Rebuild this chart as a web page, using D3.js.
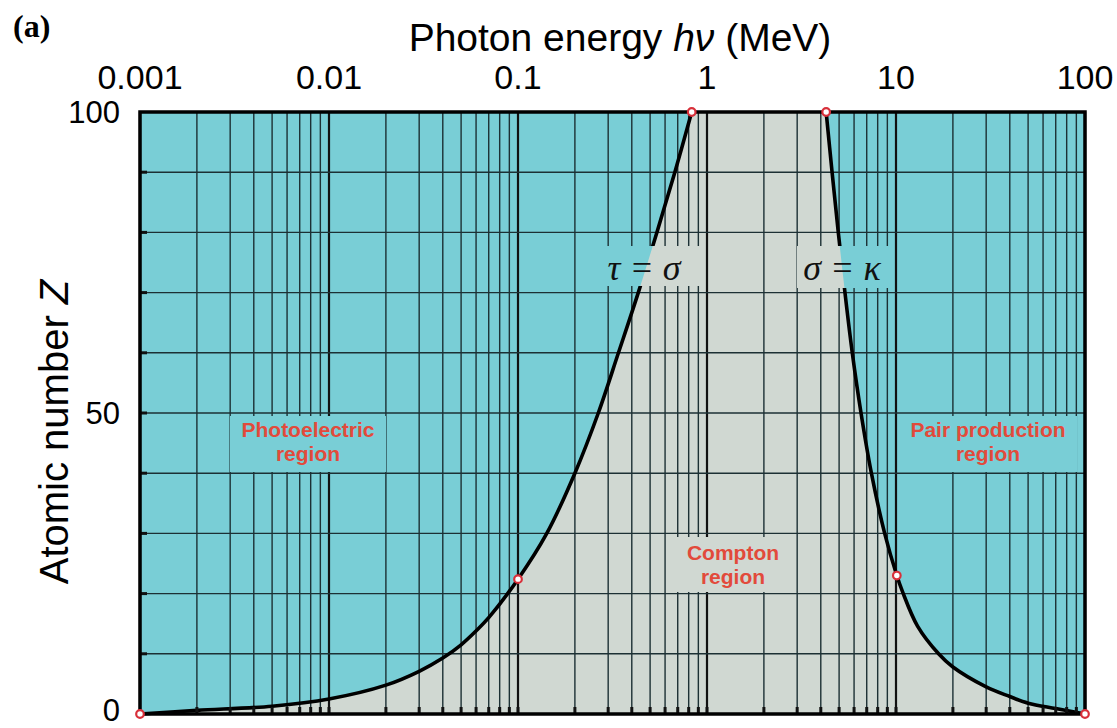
<!DOCTYPE html>
<html>
<head>
<meta charset="utf-8">
<script src="https://cdn.jsdelivr.net/npm/d3@7"></script>
<style>
  body { margin: 0; background: #fff; }
  svg { display: block; }
</style>
</head>
<body>
<div id="chart"></div>
<script>
// tau = sigma boundary (photoelectric / Compton)
const tauSigmaE = [0.001, 0.002, 0.005, 0.01, 0.02, 0.03, 0.04, 0.05, 0.06, 0.07, 0.1, 0.142, 0.2, 0.266, 0.34, 0.433, 0.543, 0.676, 0.83];
const tauSigmaZ = [0, 0.6, 1.3, 2.5, 4.8, 7.1, 9.3, 11.5, 13.8, 16.0, 22.4, 30, 40, 50, 60, 70, 80, 90, 100];
// sigma = kappa boundary (Compton / pair production)
const sigmaKappaE = [4.27, 4.59, 4.95, 5.37, 5.87, 6.53, 7.41, 8.71, 10.1, 10.8, 13, 16.8, 20, 30, 40, 50, 70, 100];
const sigmaKappaZ = [100, 90, 80, 70, 60, 50, 40, 30, 23, 20.4, 14.6, 10, 7.8, 4.5, 2.9, 1.8, 0.9, 0];
// highlighted points
const markE = [0.001, 0.1, 0.83, 4.27, 10.1, 100];
const markZ = [0, 22.4, 100, 100, 23, 0];

const xTicks = [0.001, 0.01, 0.1, 1, 10, 100];
const xTickLabels = ["0.001", "0.01", "0.1", "1", "10", "100"];
const yTicks = [0, 50, 100];
const yGrid = [10, 20, 30, 40, 50, 60, 70, 80, 90];

const width = 1117, height = 728;
const m = { l: 140, r: 32, t: 112, b: 14 };

const svg = d3.select('#chart').append('svg')
  .attr('width', width).attr('height', height);

const x = d3.scaleLog().domain([0.001, 100]).range([m.l, width - m.r]);
const y = d3.scaleLinear().domain([0, 100]).range([height - m.b, m.t]);

const cyan = '#79ced6', grey = '#d0d8d2', red = '#e24a3b';

// label boxes that hide grid lines and curves
const boxes = [
  { x0: 230, x1: 386, y0: 416, y1: 472 },
  { x0: 903, x1: 1077, y0: 416, y1: 472 },
  { x0: 667, x1: 783, y0: 537, y1: 592 },
  { x0: 604, x1: 700, y0: 246, y1: 286 },
  { x0: 797, x1: 893, y0: 246, y1: 288 }
];

const defs = svg.append('defs');
const mask = defs.append('mask').attr('id', 'labelMask');
mask.append('rect').attr('x', 0).attr('y', 0).attr('width', width).attr('height', height).attr('fill', '#fff');
mask.selectAll('rect.box').data(boxes).enter().append('rect')
  .attr('class', 'box')
  .attr('x', d => d.x0).attr('y', d => d.y0)
  .attr('width', d => d.x1 - d.x0).attr('height', d => d.y1 - d.y0)
  .attr('fill', '#000');

const pts1 = tauSigmaE.map((e, i) => [x(e), y(tauSigmaZ[i])]);
const pts2 = sigmaKappaE.map((e, i) => [x(e), y(sigmaKappaZ[i])]);

const line = d3.line().curve(d3.curveCatmullRom.alpha(0.5));

// background regions
svg.append('rect')
  .attr('x', x(0.001)).attr('y', y(100))
  .attr('width', x(100) - x(0.001)).attr('height', y(0) - y(100))
  .attr('fill', cyan);

const comptonPath = line(pts1) + 'L' + line(pts2).slice(1) + 'Z';
svg.append('path').attr('d', comptonPath).attr('fill', grey);

// grid
const grid = svg.append('g').attr('class', 'grid').attr('mask', 'url(#labelMask)');
const minor = [];
xTicks.slice(0, -1).forEach(d => { for (let k = 2; k <= 9; k++) minor.push(k * d); });

grid.selectAll('line.minor').data(minor).enter().append('line')
  .attr('class', 'minor')
  .attr('x1', d => x(d)).attr('x2', d => x(d))
  .attr('y1', y(100)).attr('y2', y(0))
  .attr('stroke', '#1c3034').attr('stroke-width', 1.4);

grid.selectAll('line.major').data(xTicks).enter().append('line')
  .attr('class', 'major')
  .attr('x1', d => x(d)).attr('x2', d => x(d))
  .attr('y1', y(100)).attr('y2', y(0))
  .attr('stroke', '#111').attr('stroke-width', 2.2);

grid.selectAll('line.h').data(yGrid).enter().append('line')
  .attr('class', 'h')
  .attr('x1', x(0.001)).attr('x2', x(100))
  .attr('y1', d => y(d)).attr('y2', d => y(d))
  .attr('stroke', '#1c3034').attr('stroke-width', 1.4);

// boundary curves
const curves = svg.append('g').attr('mask', 'url(#labelMask)');
[pts1, pts2].forEach(p => {
  curves.append('path').attr('d', line(p))
    .attr('fill', 'none').attr('stroke', '#000').attr('stroke-width', 3.6);
});

// bottom tick marks
svg.append('g').selectAll('rect').data(minor.concat(xTicks.slice(1, -1))).enter().append('rect')
  .attr('x', d => x(d) - 1.5).attr('y', y(0) - 7)
  .attr('width', 3).attr('height', 7).attr('fill', '#111');

// left tick marks
svg.append('g').selectAll('rect').data(yGrid).enter().append('rect')
  .attr('x', x(0.001)).attr('y', d => y(d) - 1.5)
  .attr('width', 7).attr('height', 3).attr('fill', '#111');

// frame
svg.append('rect')
  .attr('x', x(0.001)).attr('y', y(100))
  .attr('width', x(100) - x(0.001)).attr('height', y(0) - y(100))
  .attr('fill', 'none').attr('stroke', '#000').attr('stroke-width', 3.5);

// marked points
svg.append('g').selectAll('circle').data(markE).enter().append('circle')
  .attr('cx', d => x(d)).attr('cy', (d, i) => y(markZ[i]))
  .attr('r', 3.8).attr('fill', '#fff').attr('stroke', '#d8303a').attr('stroke-width', 2.2);

// axes labels
const sans = 'Liberation Sans, Arial, sans-serif';
svg.append('g').selectAll('text').data(xTicks).enter().append('text')
  .attr('x', d => x(d)).attr('y', 89)
  .attr('text-anchor', 'middle')
  .attr('font-family', sans).attr('font-size', 34)
  .text((d, i) => xTickLabels[i]);

svg.append('g').selectAll('text').data(yTicks).enter().append('text')
  .attr('x', 120).attr('y', d => Math.min(y(d) + 11, 721))
  .attr('text-anchor', 'end')
  .attr('font-family', sans).attr('font-size', 31)
  .text(d => d);

const title = svg.append('text')
  .attr('x', 620).attr('y', 51)
  .attr('text-anchor', 'middle')
  .attr('font-family', sans).attr('font-size', 39);
title.append('tspan').text('Photon energy ');
title.append('tspan').attr('font-style', 'italic').text('hν');
title.append('tspan').text(' (MeV)');

const ylab = svg.append('text')
  .attr('transform', `translate(68,432) rotate(-90)`)
  .attr('text-anchor', 'middle')
  .attr('font-family', sans).attr('font-size', 40);
ylab.append('tspan').text('Atomic number ');
ylab.append('tspan').attr('font-style', 'italic').text('Z');

svg.append('text')
  .attr('x', 13).attr('y', 37)
  .attr('font-family', 'Liberation Serif, Times New Roman, serif')
  .attr('font-weight', 'bold').attr('font-size', 32)
  .text('(a)');

// region labels
const regions = [
  { lines: ['Photoelectric', 'region'], cx: 308, cy: 437 },
  { lines: ['Pair production', 'region'], cx: 988, cy: 437 },
  { lines: ['Compton', 'region'], cx: 733, cy: 560 }
];
regions.forEach(r => {
  const t = svg.append('text')
    .attr('text-anchor', 'middle')
    .attr('font-family', sans).attr('font-weight', 'bold')
    .attr('font-size', 21).attr('fill', red);
  r.lines.forEach((s, i) => {
    t.append('tspan').attr('x', r.cx).attr('y', r.cy + i * 24).text(s);
  });
});

// boundary names
const serif = 'Liberation Serif, Times New Roman, serif';
[{ s: 'τ = σ', cx: 644 }, { s: 'σ = κ', cx: 842 }].forEach(d => {
  svg.append('text')
    .attr('x', d.cx).attr('y', 280)
    .attr('text-anchor', 'middle')
    .attr('font-family', serif).attr('font-style', 'italic')
    .attr('font-size', 36).attr('fill', '#111')
    .text(d.s);
});
</script>
</body>
</html>
